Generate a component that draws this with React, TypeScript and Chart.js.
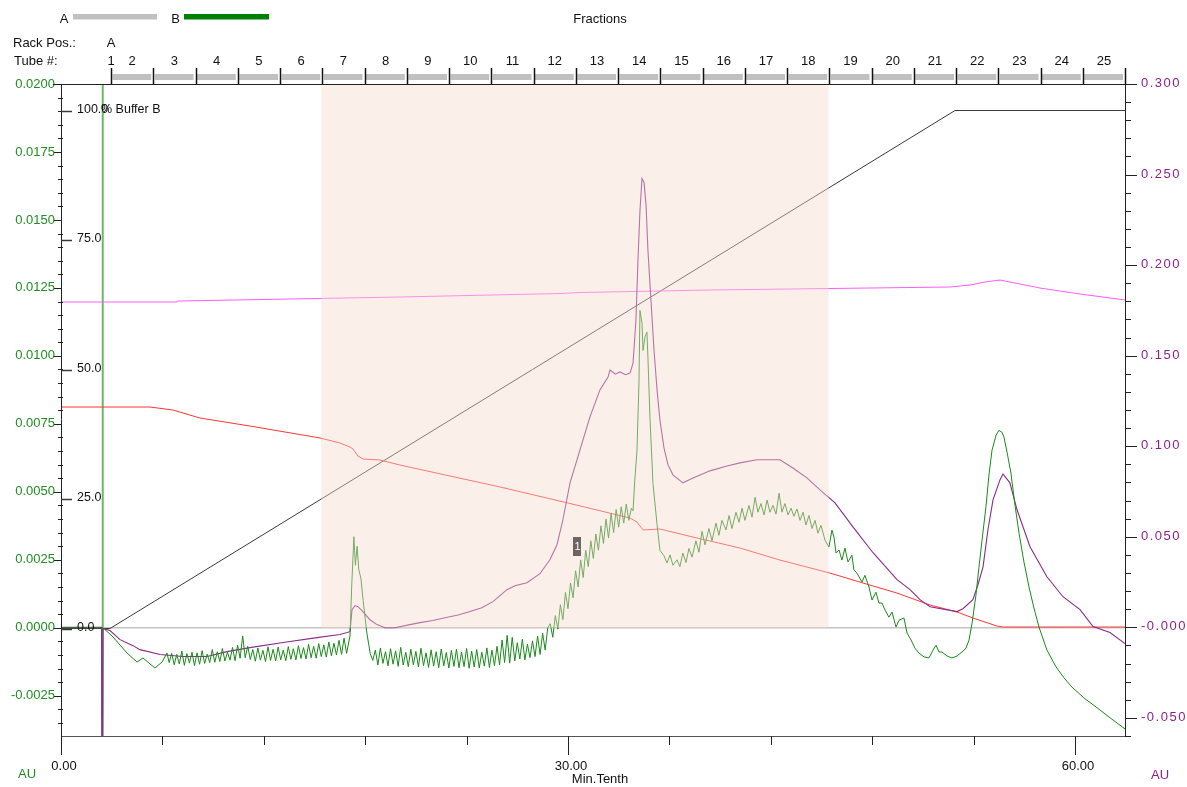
import React, { useEffect, useRef } from "react";
import { Chart, registerables } from "chart.js";

Chart.register(...registerables);

const FONT = '"Liberation Sans", Arial, Helvetica, sans-serif';
const GREEN = "#1a8a1a";
const PURPLE = "#8b2b8b";
const AXIS_GREEN = "#1f8f1f";
const AXIS_PURPLE = "#8e1f8e";

// ---- axis ranges ----
const timeRange = [0, 62.96];
const uvLeftRange = [-0.00398, 0.02];
const uvRightRange = [-0.06, 0.3];
const percentRange = [-20.75, 105.12];

// ---- tick labels ----
const timeLabelTicks = [0, 30, 60];
const percentTicks = [0, 25, 50, 75, 100];

// ---- fractions ----
const fractionMarks = [
  2.96, 5.46, 7.96, 10.46, 12.96, 15.46, 17.96, 20.46, 22.96, 25.46, 27.96, 30.46, 32.96,
  35.46, 37.96, 40.46, 42.96, 45.46, 47.96, 50.46, 52.96, 55.46, 57.96, 60.46, 62.96,
];
const fractionLabels = [
  "1", "2", "3", "4", "5", "6", "7", "8", "9", "10", "11", "12", "13",
  "14", "15", "16", "17", "18", "19", "20", "21", "22", "23", "24", "25",
];
const pooledRange = [15.4, 45.43];
const eventMarker = { time: 30.56, au: 0.003, label: "1" };
const injectionTime = 2.47;

// ---- UV trace (left axis, AU) ----
const uvGreen: number[][] = [
  [0, 0], [2.49, 0.0], [3.08, -0.00034], [3.91, -0.00093], [4.5, -0.00126], [4.85, -0.00111],
  [5.56, -0.00148], [5.98, -0.00126], [6.27, -0.00093],
  [6.4, -0.00128], [6.55, -0.00094], [6.7, -0.00136], [6.85, -0.00098], [7.0, -0.00133], [7.15, -0.00086],
  [7.3, -0.00138], [7.45, -0.00095], [7.6, -0.0013], [7.75, -0.0009], [7.9, -0.00139], [8.05, -0.00092],
  [8.2, -0.00134], [8.35, -0.00084], [8.5, -0.00131], [8.65, -0.00097], [8.8, -0.00128], [8.95, -0.0008],
  [9.1, -0.00127], [9.25, -0.00088], [9.4, -0.00124], [9.55, -0.00076], [9.7, -0.00122], [9.85, -0.0009],
  [10.0, -0.00119], [10.15, -0.00072], [10.3, -0.00121], [10.45, -0.00064], [10.6, -0.00112], [10.75, -0.0003],
  [10.9, -0.0011], [11.05, -0.00068], [11.2, -0.00117], [11.35, -0.0008], [11.5, -0.00123], [11.65, -0.00074],
  [11.8, -0.00119], [11.95, -0.00083], [12.1, -0.00124], [12.25, -0.0007], [12.4, -0.0012], [12.55, -0.00079],
  [12.7, -0.00122], [12.85, -0.00071], [13.0, -0.00118], [13.15, -0.00082], [13.3, -0.00121], [13.45, -0.00069],
  [13.6, -0.00116], [13.75, -0.00077], [13.9, -0.00118], [14.05, -0.00066], [14.2, -0.00113], [14.35, -0.00073],
  [14.5, -0.00115], [14.65, -0.00061], [14.8, -0.0011], [14.95, -0.00068], [15.1, -0.00112], [15.25, -0.00058],
  [15.4, -0.00106], [15.55, -0.00063], [15.7, -0.00108], [15.85, -0.00052], [16.0, -0.00103], [16.15, -0.00057],
  [16.3, -0.001], [16.45, -0.00046], [16.6, -0.00098], [16.75, -0.00038], [16.9, -0.00094],
  [17.1, -0.0003], [17.2, 0.0015], [17.33, 0.00335], [17.42, 0.0023], [17.52, 0.003], [17.62, 0.00215],
  [17.75, 0.0018], [17.88, 0.001], [18.1, -0.0002], [18.3, -0.00095],
  [18.45, -0.0012], [18.6, -0.00082], [18.75, -0.00137], [18.9, -0.00074], [19.05, -0.00131], [19.2, -0.00088],
  [19.35, -0.0014], [19.5, -0.00077], [19.65, -0.00134], [19.8, -0.00085], [19.95, -0.00142], [20.1, -0.00072],
  [20.25, -0.00137], [20.4, -0.0009], [20.55, -0.00143], [20.7, -0.00079], [20.85, -0.00136], [21.0, -0.00087],
  [21.15, -0.00144], [21.3, -0.00075], [21.45, -0.00139], [21.6, -0.00092], [21.75, -0.00146], [21.9, -0.00081],
  [22.05, -0.00141], [22.2, -0.00088], [22.35, -0.00147], [22.5, -0.00078], [22.65, -0.0014], [22.8, -0.00091],
  [22.95, -0.00148], [23.1, -0.00083], [23.25, -0.00142], [23.4, -0.00079], [23.55, -0.00147], [23.7, -0.00089],
  [23.85, -0.00143], [24.0, -0.00076], [24.15, -0.00149], [24.3, -0.00086], [24.45, -0.00144], [24.6, -0.0008],
  [24.75, -0.00148], [24.9, -0.0009], [25.05, -0.00141], [25.2, -0.00074], [25.35, -0.00146], [25.5, -0.00082],
  [25.65, -0.00139], [25.8, -0.00068], [25.95, -0.00137], [26.1, -0.00045], [26.25, -0.00128], [26.4, -0.00028],
  [26.55, -0.0013], [26.7, -0.00035], [26.85, -0.00122], [27.0, -0.00055], [27.15, -0.00115], [27.3, -0.00042],
  [27.45, -0.00118], [27.6, -0.0006], [27.75, -0.0011], [27.9, -0.00048], [28.05, -0.00106], [28.2, -0.0003],
  [28.35, -0.00098], [28.5, -0.0002], [28.65, -0.00082], [28.8, 0.0],
  [28.95, 0.00015], [29.1, -0.00035], [29.25, 0.00045], [29.4, -0.00005], [29.55, 0.00085], [29.7, 0.0003],
  [29.85, 0.0013], [30.0, 0.0007], [30.15, 0.00165], [30.3, 0.0011], [30.45, 0.0021], [30.6, 0.0015],
  [30.75, 0.0025], [30.9, 0.00185], [31.05, 0.00285], [31.2, 0.00225], [31.35, 0.0032], [31.5, 0.00255],
  [31.65, 0.00345], [31.8, 0.00285], [31.95, 0.00375], [32.1, 0.0031], [32.25, 0.004], [32.4, 0.0033],
  [32.55, 0.0042], [32.7, 0.0035], [32.85, 0.00435], [33.0, 0.0037], [33.15, 0.00445], [33.3, 0.00385],
  [33.45, 0.00455], [33.6, 0.00395], [33.75, 0.0044],
  [33.85, 0.0043], [33.95, 0.0054], [34.08, 0.0065], [34.2, 0.009], [34.26, 0.01167], [34.38, 0.0112],
  [34.44, 0.0102], [34.56, 0.0107], [34.67, 0.01087], [34.73, 0.00995], [34.85, 0.00774], [35.03, 0.0053],
  [35.27, 0.0038], [35.44, 0.00285], [35.68, 0.00265], [35.86, 0.00238], [36.04, 0.00268], [36.21, 0.0023],
  [36.45, 0.0025], [36.62, 0.00225], [36.8, 0.00275], [36.98, 0.0024], [37.16, 0.00292], [37.34, 0.0026],
  [37.57, 0.0032], [37.75, 0.00278], [37.93, 0.00355], [38.11, 0.00305], [38.34, 0.00365], [38.52, 0.0032],
  [38.76, 0.00385], [38.93, 0.0034], [39.11, 0.00395], [39.35, 0.0036], [39.53, 0.00413], [39.7, 0.00365],
  [39.94, 0.00425], [40.12, 0.00388], [40.3, 0.0044], [40.47, 0.00395], [40.71, 0.0045], [40.89, 0.00407],
  [41.07, 0.0048], [41.24, 0.00425], [41.42, 0.00457], [41.6, 0.00415], [41.78, 0.0047], [41.95, 0.00425],
  [42.13, 0.0045], [42.31, 0.00418], [42.49, 0.00495], [42.66, 0.00425], [42.84, 0.00457], [43.02, 0.00415],
  [43.2, 0.0044], [43.37, 0.0041], [43.55, 0.00437], [43.73, 0.00395], [43.91, 0.00425], [44.08, 0.00378],
  [44.26, 0.00413], [44.44, 0.00365], [44.62, 0.00395], [44.79, 0.00348], [44.97, 0.00377], [45.21, 0.00322],
  [45.44, 0.00297], [45.62, 0.00359], [45.74, 0.00333], [45.86, 0.00275], [46.04, 0.00286], [46.21, 0.00249],
  [46.39, 0.00293], [46.57, 0.00242], [46.8, 0.00267], [46.92, 0.00212], [47.1, 0.00201], [47.4, 0.00168],
  [47.57, 0.00193], [47.81, 0.0015], [47.99, 0.00102], [48.22, 0.00131], [48.4, 0.00091], [48.58, 0.00091],
  [48.76, 0.00065], [48.99, 0.00039], [49.17, 0.00058], [49.41, 0.00003], [49.59, 0.00028], [49.88, 0.00036],
  [50.06, -0.00019], [50.3, -0.00045], [50.53, -0.00075], [50.77, -0.00093], [51.07, -0.00107], [51.36, -0.00111],
  [51.6, -0.00082], [51.78, -0.00064], [51.95, -0.00089], [52.13, -0.00089], [52.43, -0.00104], [52.72, -0.00111],
  [53.02, -0.00104], [53.31, -0.00089], [53.55, -0.00075], [53.73, -0.00045], [53.91, 0.00017], [54.14, 0.0012],
  [54.32, 0.00223], [54.5, 0.00322], [54.73, 0.00444], [54.91, 0.00562], [55.09, 0.00653], [55.33, 0.00708],
  [55.5, 0.00726], [55.68, 0.00719], [55.8, 0.00701], [55.98, 0.00646], [56.21, 0.00569], [56.45, 0.00451],
  [56.69, 0.00348], [56.98, 0.00242], [57.28, 0.0015], [57.57, 0.00073], [57.87, 0.00003], [58.34, -0.00082],
  [58.88, -0.00144], [59.35, -0.00184], [59.82, -0.00218], [60.53, -0.00258], [61.24, -0.00291], [62.01, -0.00328],
  [62.96, -0.00372],
];

// ---- UV trace (right axis, AU) ----
const uvPurple: number[][] = [
  [0, 0], [2.4, 0], [2.41, -0.062], [2.46, -0.062], [2.49, -0.0007], [2.9, -0.0018], [3.49, -0.0068],
  [4.26, -0.0101], [4.67, -0.0123], [5.86, -0.015], [7.22, -0.0161], [8.64, -0.0161], [9.82, -0.0134],
  [11.18, -0.0112], [13.14, -0.0084], [15.15, -0.0057], [16.51, -0.004], [17.1, -0.0024], [17.22, 0.0098],
  [17.4, 0.012], [17.57, 0.0114], [17.81, 0.0092], [18.28, 0.0042], [18.7, 0.0015], [19.17, -0.0002],
  [19.76, -0.0002], [20.5, 0.0012], [21.24, 0.0026], [22.0, 0.0038], [22.72, 0.0053], [23.5, 0.0068],
  [24.2, 0.0087], [24.9, 0.0108], [25.56, 0.0142], [26.39, 0.0208],
  [26.86, 0.023], [27.57, 0.0246], [28.34, 0.0296], [28.93, 0.0373], [29.35, 0.0456], [29.7, 0.0594],
  [30.12, 0.0798], [30.71, 0.098], [31.3, 0.1162], [31.89, 0.1311], [32.37, 0.1382], [32.49, 0.1421],
  [32.8, 0.1398], [33.08, 0.141], [33.4, 0.1395], [33.67, 0.1404], [33.85, 0.1459], [34.02, 0.1696],
  [34.14, 0.2027], [34.26, 0.2303], [34.38, 0.2478], [34.5, 0.2456], [34.62, 0.233], [34.73, 0.2082],
  [34.91, 0.1806], [35.09, 0.1531], [35.27, 0.1311], [35.44, 0.1145], [35.68, 0.0991], [35.92, 0.0897],
  [36.21, 0.0842], [36.8, 0.0798], [37.4, 0.0825], [38.4, 0.0864], [39.41, 0.0891], [40.18, 0.0908],
  [41.18, 0.0925], [42.54, 0.0925], [43.31, 0.088], [44.14, 0.0825], [44.91, 0.0759], [45.8, 0.0687],
  [46.86, 0.0555], [48.05, 0.0412], [49.47, 0.0263], [50.24, 0.0208], [50.83, 0.0153], [51.42, 0.0114],
  [53.02, 0.0087], [53.37, 0.0103], [53.96, 0.0153], [54.26, 0.0235], [54.56, 0.0334], [54.85, 0.0539],
  [55.15, 0.0704], [55.56, 0.0814], [55.74, 0.0847], [56.15, 0.0798], [56.57, 0.0649], [57.34, 0.0445],
  [58.34, 0.0279], [59.29, 0.0169], [60.3, 0.0098], [61.07, 0.0004], [62.07, -0.0029], [62.96, -0.009],
];

// ---- other curves (percent scale) ----
const redTrace: number[][] = [
  [0, 42.76], [5.27, 42.76], [6.63, 42.18], [8.22, 40.64], [11.18, 39.09], [15.33, 36.78], [16.51, 35.81],
  [17.1, 35.04], [17.28, 34.65], [17.57, 33.3], [17.87, 32.72], [18.88, 32.53], [20.06, 31.56], [25.98, 27.32],
  [30.0, 24.23], [33.67, 21.33], [34.08, 20.56], [34.44, 19.02], [35.44, 19.21], [37.4, 17.66], [40.18, 15.54],
  [42.54, 13.22], [45.5, 10.71], [47.46, 8.78], [49.47, 6.85], [51.42, 4.54], [53.02, 3.19], [53.96, 2.03],
  [55.38, 0.48], [55.74, 0.29], [62.96, 0.29],
];
const pinkTrace: number[][] = [
  [0, 63.03], [6.86, 63.03], [6.92, 63.22], [20.06, 64.0], [29.53, 64.67], [30.71, 64.86], [38.4, 65.35],
  [52.6, 65.93], [53.79, 66.31], [54.67, 66.89], [55.56, 67.28], [56.15, 66.89], [57.93, 65.73], [60.3, 64.58],
  [62.96, 63.42],
];
const gradientB: number[][] = [
  [0, 0], [2.9, 0], [52.9, 100], [62.96, 100],
];
const baselineA: number[][] = [
  [2.5, 0], [62.96, 0],
];

const toXY = (arr: number[][]) => arr.map(([x, y]) => ({ x, y }));

function line(ctx: CanvasRenderingContext2D, x1: number, y1: number, x2: number, y2: number) {
  ctx.beginPath();
  ctx.moveTo(x1, y1);
  ctx.lineTo(x2, y2);
  ctx.stroke();
}

const decorPlugin = {
  id: "decor",
  afterDatasetsDraw(chart: any) {
    const { ctx, chartArea } = chart;
    const xs = chart.scales.x;
    const yG = chart.scales.y;
    const x0 = xs.getPixelForValue(pooledRange[0]);
    const x1 = xs.getPixelForValue(pooledRange[1]);
    const yb = yG.getPixelForValue(0);
    ctx.save();
    ctx.fillStyle = "rgba(245,217,202,0.42)";
    ctx.fillRect(x0, chartArea.top, x1 - x0, yb - chartArea.top);
    const mx = xs.getPixelForValue(eventMarker.time);
    const my = yG.getPixelForValue(eventMarker.au);
    ctx.fillStyle = "#6e6561";
    ctx.fillRect(Math.round(mx - 4), Math.round(my - 9.5), 8, 19);
    ctx.fillStyle = "#ffffff";
    ctx.font = `11px ${FONT}`;
    ctx.textAlign = "center";
    ctx.textBaseline = "middle";
    ctx.fillText(eventMarker.label, mx, my + 1);
    ctx.restore();
  },
  afterDraw(chart: any) {
    const { ctx, chartArea } = chart;
    const L = chartArea.left;
    const R = chartArea.right;
    const T = chartArea.top;
    const B = chartArea.bottom;
    const xs = chart.scales.x;
    const yG = chart.scales.y;
    const yR = chart.scales.y2;
    const yP = chart.scales.yP;
    ctx.save();
    ctx.lineWidth = 1;
    ctx.strokeStyle = "#222";
    line(ctx, L - 8, T + 0.5, R + 12, T + 0.5);
    line(ctx, L + 0.5, T, L + 0.5, B + 19);
    line(ctx, R + 0.5, T - 16, R + 0.5, B);
    ctx.strokeStyle = "#555";
    line(ctx, L, B + 0.5, R, B + 0.5);

    ctx.strokeStyle = "#222";
    for (let k = -7; k <= 40; k++) {
      const v = k * 0.0005;
      if (v < uvLeftRange[0]) continue;
      const y = Math.round(yG.getPixelForValue(v)) + 0.5;
      if (k % 5 === 0) line(ctx, L - 7, y, L + 1, y);
      else line(ctx, L - 3, y, L + 2, y);
    }
    ctx.font = `13px ${FONT}`;
    ctx.textAlign = "left";
    ctx.textBaseline = "middle";
    ctx.fillStyle = AXIS_PURPLE;
    for (let k = -6; k <= 30; k++) {
      const v = k * 0.01;
      const y = Math.round(yR.getPixelForValue(v)) + 0.5;
      if (k % 5 === 0) {
        line(ctx, R, y, R + 12, y);
        const txt = k === 0 ? "-0.000" : v.toFixed(3);
        (ctx as any).letterSpacing = "1.5px";
        ctx.fillText(txt, R + 16, y - 1);
        (ctx as any).letterSpacing = "0px";
      } else {
        line(ctx, R, y, R + 6, y);
      }
    }
    for (let k = 0; k <= 10; k++) {
      const v = k * 6;
      const x = Math.round(xs.getPixelForValue(v)) + 0.5;
      if (timeLabelTicks.includes(v)) line(ctx, x, B, x, B + 19);
      else line(ctx, x, B, x, B + 9);
    }
    ctx.strokeStyle = "#3a3a3a";
    ctx.lineWidth = 1.5;
    ctx.fillStyle = "#111";
    ctx.font = `12.5px ${FONT}`;
    for (const p of percentTicks) {
      const y = Math.round(yP.getPixelForValue(p)) + 0.5;
      line(ctx, L, y, L + 11, y);
      ctx.fillText(p.toFixed(1), L + 16, y - 2);
      if (p === 100) ctx.fillText("% Buffer B", L + 40, y - 2);
    }

    ctx.lineWidth = 1.5;
    ctx.strokeStyle = "#111";
    const px = fractionMarks.map((m) => xs.getPixelForValue(m));
    ctx.fillStyle = "#c0c0c0";
    for (let i = 0; i < px.length - 1; i++) {
      ctx.fillRect(px[i] + 1.5, T - 10, px[i + 1] - px[i] - 3.5, 6);
    }
    for (let i = 0; i < px.length; i++) {
      const x = Math.round(px[i]) + 0.5;
      line(ctx, x, T - 16, x, T);
    }
    ctx.fillStyle = "#111";
    ctx.font = `13px ${FONT}`;
    ctx.textAlign = "center";
    ctx.textBaseline = "middle";
    ctx.fillText(fractionLabels[0], px[0], T - 23);
    for (let i = 1; i < fractionLabels.length; i++) {
      ctx.fillText(fractionLabels[i], (px[i - 1] + px[i]) / 2, T - 23);
    }
    ctx.fillText("A", px[0], T - 40.5);
    ctx.textAlign = "left";
    ctx.fillText("Rack Pos.:", 13, T - 40.5);
    ctx.fillText("Tube #:", 14, T - 23);

    ctx.textAlign = "center";
    ctx.fillText("A", 64, 19);
    ctx.fillText("B", 175.5, 19);
    ctx.fillText("Fractions", 600, 19);
    ctx.fillStyle = "#c0c0c0";
    ctx.fillRect(73, 14, 84, 5.5);
    ctx.fillStyle = "#008000";
    ctx.fillRect(184, 14, 85, 5.5);

    ctx.fillStyle = "#111";
    ctx.fillText("Min.Tenth", 600, B + 43);
    ctx.fillStyle = AXIS_GREEN;
    ctx.fillText("AU", 27, B + 38.5);
    ctx.fillStyle = AXIS_PURPLE;
    ctx.fillText("AU", 1160, B + 39);
    ctx.restore();
  },
};

export default function App() {
  const canvasRef = useRef<HTMLCanvasElement | null>(null);

  useEffect(() => {
    const canvas = canvasRef.current;
    if (!canvas) return;
    Chart.defaults.font.family = FONT;
    const ds = (label: string, data: number[][], color: string, yAxisID: string, width = 1) => ({
      label,
      data: toXY(data),
      borderColor: color,
      backgroundColor: color,
      borderWidth: width,
      pointRadius: 0,
      tension: 0,
      fill: false,
      yAxisID,
      clip: 0,
    });
    const chart = new Chart(canvas, {
      type: "line",
      data: {
        datasets: [
          ds("UV B", uvGreen, GREEN, "y", 1),
          ds("UV A", uvPurple, PURPLE, "y2", 1.1),
          ds("pH", redTrace, "#ff3434", "yP", 1),
          ds("Cond", pinkTrace, "#ff5cff", "yP", 1),
          ds("Conc B", gradientB, "#3a3a3a", "yP", 1),
          ds("A", baselineA, "#c4c4c4", "y", 1.5),
          ds(
            "Inject",
            [
              [injectionTime, uvLeftRange[0]],
              [injectionTime, uvLeftRange[1]],
            ],
            "rgba(70,165,70,0.8)",
            "y",
            2
          ),
        ],
      },
      options: {
        animation: false,
        responsive: false,
        maintainAspectRatio: false,
        events: [],
        layout: { padding: { top: 84, left: 0, right: 0, bottom: 0 } },
        plugins: { legend: { display: false }, tooltip: { enabled: false }, title: { display: false } },
        scales: {
          x: {
            type: "linear",
            position: "bottom",
            min: timeRange[0],
            max: timeRange[1],
            afterFit: (s: any) => {
              s.height = 51;
            },
            border: { display: false },
            grid: { display: true, drawOnChartArea: false, tickLength: 20, tickColor: "rgba(0,0,0,0)" },
            ticks: {
              stepSize: 6,
              autoSkip: false,
              maxRotation: 0,
              includeBounds: false,
              padding: 3,
              labelOffset: 3,
              color: "#111",
              font: { family: FONT, size: 13 },
              callback: (v: any) => {
                const n = Math.round(Number(v) * 1000) / 1000;
                return timeLabelTicks.includes(n) ? n.toFixed(2) : "";
              },
            },
          },
          y: {
            type: "linear",
            position: "left",
            min: uvLeftRange[0],
            max: uvLeftRange[1],
            afterFit: (s: any) => {
              s.width = 61;
            },
            border: { display: false },
            grid: { display: true, drawOnChartArea: false, tickLength: 3, tickColor: "rgba(0,0,0,0)" },
            ticks: {
              stepSize: 0.0025,
              includeBounds: false,
              autoSkip: false,
              padding: 3,
              color: AXIS_GREEN,
              font: { family: FONT, size: 13 },
              callback: (v: any) => Number(v).toFixed(4),
            },
          },
          y2: {
            type: "linear",
            position: "right",
            min: uvRightRange[0],
            max: uvRightRange[1],
            afterFit: (s: any) => {
              s.width = 62;
            },
            border: { display: false },
            grid: { display: false },
            ticks: { display: false },
          },
          yP: {
            type: "linear",
            display: false,
            min: percentRange[0],
            max: percentRange[1],
          },
        },
      } as any,
      plugins: [decorPlugin],
    });
    return () => chart.destroy();
  }, []);

  return (
    <div style={{ position: "absolute", left: 0, top: 0, width: 1187, height: 787, background: "#fff" }}>
      <canvas ref={canvasRef} width={1187} height={787} style={{ display: "block" }} />
    </div>
  );
}
